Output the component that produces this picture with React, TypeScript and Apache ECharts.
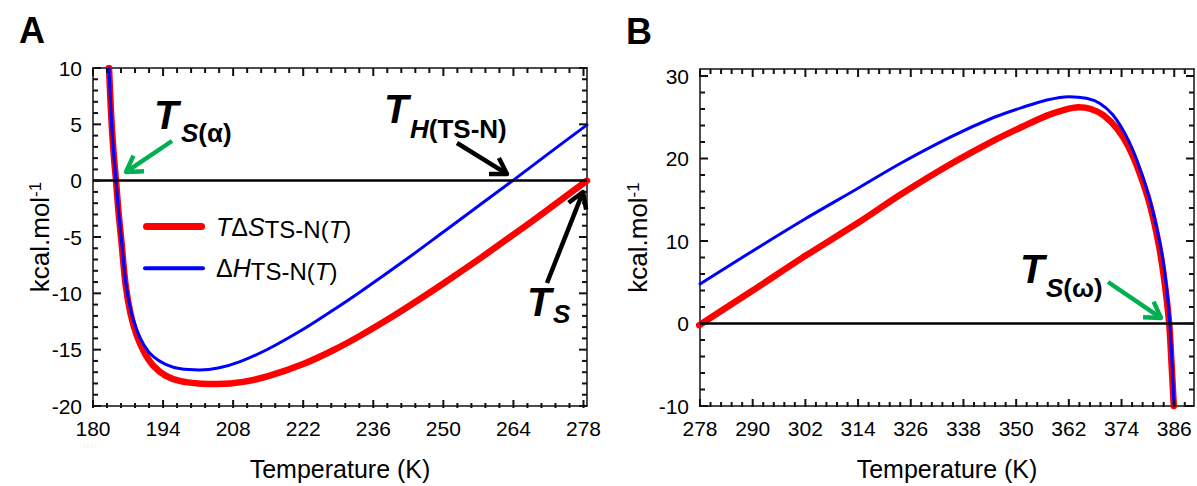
import React, { useEffect, useRef } from 'react';
import * as echarts from 'echarts';

// ---------- Panel A data (low temperature) ----------
const aEntropyT = [183.2, 183.5, 183.8, 184.2, 184.6, 185.1, 185.7, 186.5, 187.5, 188.7, 190.2, 192, 194.5, 197.5, 201, 205, 210, 215, 222, 228, 233.3, 240, 245, 250, 257.7, 264, 270, 278.7];
const aEntropy = [10, 7, 4.5, 2, 0, -2.8, -5.5, -9.2, -11.8, -13.7, -15.2, -16.4, -17.3, -17.8, -18.0, -18.05, -17.86, -17.35, -16.27, -15.05, -13.79, -12.02, -10.6, -9.13, -6.78, -4.79, -2.86, 0];
const aEnthalpyT = [183.2, 183.5, 183.8, 184.2, 184.6, 185.1, 185.7, 186.5, 187.5, 188.7, 190.2, 192, 194.5, 197.5, 201.3, 205, 209.4, 215, 222, 228, 233.3, 243.3, 250, 257, 264, 271, 278.7];
const aEnthalpy = [10, 7, 4.5, 2, 0, -2.7, -5.3, -8.9, -11.4, -13.2, -14.6, -15.6, -16.3, -16.7, -16.8, -16.63, -16.06, -14.94, -13.19, -11.48, -9.9, -6.75, -4.55, -2.25, 0.05, 2.4, 4.95];

// ---------- Panel B data (high temperature) ----------
const bEntropyT = [277.8, 290, 302, 314, 323.6, 335, 345, 352, 357, 361, 364.2, 367, 370, 373, 375.5, 378, 380.5, 382.5, 383.8, 384.85, 385.4, 385.9];
const bEntropy = [-0.2, 4.0, 8.2, 12.2, 15.6, 19.3, 22.2, 24.0, 25.2, 25.9, 26.2, 26.0, 25.2, 23.6, 21.5, 18.4, 14.3, 9.5, 5.0, 0, -5, -10];
const bEnthalpyT = [278, 290, 302, 314, 323.6, 335, 345, 352, 357, 362, 366, 369, 372, 375, 377.5, 380, 382, 383.5, 384.4, 385.0, 385.5, 385.95];
const bEnthalpy = [4.8, 8.8, 12.7, 16.4, 19.4, 22.6, 25.0, 26.3, 27.1, 27.5, 27.3, 26.7, 25.3, 22.8, 19.8, 15.8, 11.6, 7.5, 3.6, 0, -4.8, -10];

// ---------- Axis settings ----------
const aXTicks = { min: 180, max: 278.7, interval: 14, minor: 2.8 };
const aYTicks = { min: -20, max: 10, interval: 5, minor: 1 };
const bXTicks = { min: 278, max: 390.5, interval: 12, minor: 2.4 };
const bYTicks = { min: -10, max: 30.85, interval: 10, minor: 2 };

const FONT = '"Liberation Sans", Arial, Helvetica, sans-serif';
const AXIS_COLOR = '#111111';
const RED = '#ff0000';
const BLUE = '#0000ff';
const GREEN = '#00b050';

const GRID_A = { left: 93, top: 68, width: 494, height: 340 };
const GRID_B = { left: 700, top: 69, width: 494, height: 338 };

function pairs(xs: number[], ys: number[]) {
  return xs.map((x, i) => [x, ys[i]]);
}

function mainX(grid: number, t: any, position: string) {
  const isBottom = position === 'bottom';
  return {
    type: 'value', gridIndex: grid, min: t.min, max: t.max, position, interval: t.interval,
    splitLine: { show: false },
    axisLine: { show: true, onZero: false, lineStyle: { color: AXIS_COLOR, width: 1.5 } },
    axisTick: { show: false },
    axisLabel: isBottom ? { show: true, margin: 12, fontSize: 21, color: '#000', fontFamily: FONT, showMaxLabel: false } : { show: false },
    name: isBottom ? 'Temperature (K)' : '', nameLocation: 'middle', nameGap: 50, nameMoveOverlap: false,
    nameTextStyle: { fontSize: 25, color: '#000', fontFamily: FONT },
  };
}

function mainY(grid: number, t: any, position: string, gap: number, hideMax: boolean) {
  const isLeft = position === 'left';
  return {
    type: 'value', gridIndex: grid, min: t.min, max: t.max, position, interval: t.interval,
    splitLine: { show: false },
    axisLine: { show: true, onZero: false, lineStyle: { color: AXIS_COLOR, width: 1.5 } },
    axisTick: { show: false },
    axisLabel: isLeft ? { show: true, margin: 11, fontSize: 21, color: '#000', fontFamily: FONT, showMaxLabel: hideMax ? false : true } : { show: false },
    name: isLeft ? '{a|kcal.mol}{s|-1}' : '', nameLocation: 'middle', nameRotate: 90, nameGap: gap, nameMoveOverlap: false,
    nameTextStyle: {
      color: '#000', fontFamily: FONT,
      rich: {
        a: { fontSize: 26, lineHeight: 26, verticalAlign: 'bottom', fontFamily: FONT, color: '#000' },
        s: { fontSize: 17, lineHeight: 17, verticalAlign: 'top', padding: [0, 0, 20, 0], fontFamily: FONT, color: '#000' },
      },
    },
  };
}

function arrow(x1: number, y1: number, x2: number, y2: number, color: string) {
  const ang = Math.atan2(y2 - y1, x2 - x1);
  const L = 18;
  const sp = 0.55;
  const p1 = [x2 - L * Math.cos(ang - sp), y2 - L * Math.sin(ang - sp)];
  const p2 = [x2 - L * Math.cos(ang + sp), y2 - L * Math.sin(ang + sp)];
  return [
    { type: 'line', silent: true, z: 100, shape: { x1, y1, x2: x2 - 2 * Math.cos(ang), y2: y2 - 2 * Math.sin(ang) }, style: { stroke: color, lineWidth: 4.5 } },
    { type: 'polyline', silent: true, z: 100, shape: { points: [p1, [x2, y2], p2] }, style: { stroke: color, lineWidth: 4.5, fill: null, lineJoin: 'round', lineCap: 'butt' } },
  ];
}

function bigT(x: number, y: number) {
  return { type: 'text', silent: true, z: 100, x, y, style: { text: 'T', fontSize: 40, fontWeight: 'bold', fontStyle: 'italic', fontFamily: FONT, fill: '#000', verticalAlign: 'middle', align: 'left' } };
}
function subText(x: number, y: number, text: string) {
  return {
    type: 'text', silent: true, z: 100, x, y,
    style: {
      text, verticalAlign: 'middle', align: 'left', fill: '#000', fontFamily: FONT, fontSize: 26, fontWeight: 'bold',
      rich: {
        i: { fontSize: 26, fontWeight: 'bold', fontStyle: 'italic', fontFamily: FONT, fill: '#000' },
        n: { fontSize: 26, fontWeight: 'bold', fontFamily: FONT, fill: '#000' },
      },
    },
  };
}

const legendRich = {
  i: { fontSize: 25, fontStyle: 'italic', lineHeight: 30, verticalAlign: 'middle', fontFamily: FONT, color: '#000' },
  i0: { fontSize: 25, fontStyle: 'italic', lineHeight: 30, verticalAlign: 'middle', fontFamily: FONT, color: '#000', padding: [0, 0, 0, 6] },
  n: { fontSize: 25, lineHeight: 30, verticalAlign: 'middle', fontFamily: FONT, color: '#000' },
  n0: { fontSize: 25, lineHeight: 30, verticalAlign: 'middle', fontFamily: FONT, color: '#000', padding: [0, 0, 0, 6] },
  sub: { fontSize: 24, lineHeight: 20, verticalAlign: 'bottom', fontFamily: FONT, color: '#000' },
  subi: { fontSize: 24, fontStyle: 'italic', lineHeight: 20, verticalAlign: 'bottom', fontFamily: FONT, color: '#000' },
};

// Inward ticks on the four edges of a grid, positioned through the chart's axis scales.
function edgeTicks(chart: any, xAxisIndex: number, yAxisIndex: number, g: any, tx: any, ty: any) {
  const els: any[] = [];
  const top = g.top, bottom = g.top + g.height, left = g.left, right = g.left + g.width;
  const mapX = (v: number) => {
    const p = chart.convertToPixel({ xAxisIndex }, v);
    return Number.isFinite(p) ? p : left + ((v - tx.min) / (tx.max - tx.min)) * g.width;
  };
  const mapY = (v: number) => {
    const p = chart.convertToPixel({ yAxisIndex }, v);
    return Number.isFinite(p) ? p : bottom - ((v - ty.min) / (ty.max - ty.min)) * g.height;
  };
  const line = (x1: number, y1: number, x2: number, y2: number) => ({
    type: 'line', silent: true, z: 60, shape: { x1, y1, x2, y2 }, style: { stroke: AXIS_COLOR, lineWidth: 2 },
  });
  const perX = Math.round(tx.interval / tx.minor);
  const nx = Math.floor((tx.max - tx.min) / tx.minor + 1e-6);
  for (let k = 0; k <= nx; k++) {
    const px = mapX(+(tx.min + k * tx.minor).toFixed(4));
    const len = k % perX === 0 ? 8 : 5;
    els.push(line(px, bottom, px, bottom - len));
    els.push(line(px, top, px, top + len));
  }
  const perY = Math.round(ty.interval / ty.minor);
  const ny = Math.floor((ty.max - ty.min) / ty.minor + 1e-6);
  for (let k = 0; k <= ny; k++) {
    const py = mapY(+(ty.min + k * ty.minor).toFixed(4));
    const len = k % perY === 0 ? 8 : 5;
    els.push(line(left, py, left + len, py));
    els.push(line(right, py, right - len, py));
  }
  return els;
}

export default function App() {
  const ref = useRef<HTMLDivElement>(null);
  useEffect(() => {
    document.body.style.margin = '0';
    const chart = echarts.init(ref.current!, null, { renderer: 'svg' });
    const xA = [mainX(0, aXTicks, 'bottom'), mainX(0, aXTicks, 'top')];
    const yA = [mainY(0, aYTicks, 'left', 40, false), mainY(0, aYTicks, 'right', 0, false)];
    const xB = [mainX(1, bXTicks, 'bottom'), mainX(1, bXTicks, 'top')];
    const yB = [mainY(1, bYTicks, 'left', 49, true), mainY(1, bYTicks, 'right', 0, true)];
    const annotations: any[] = [
      { type: 'text', silent: true, x: 19, y: 30, style: { text: 'A', fontSize: 36, fontWeight: 'bold', fontFamily: FONT, fill: '#000', verticalAlign: 'middle' } },
      { type: 'text', silent: true, x: 626, y: 31, style: { text: 'B', fontSize: 36, fontWeight: 'bold', fontFamily: FONT, fill: '#000', verticalAlign: 'middle' } },
      bigT(154, 115), subText(181, 133, '{i|S}{n|(α)}'),
      bigT(384, 109), subText(410, 129, '{i|H}{n|(TS-N)}'),
      bigT(527, 302), subText(553, 314, '{i|S}'),
      bigT(1020, 269), subText(1046, 288, '{i|S}{n|(ω)}'),
      ...arrow(172, 141, 126, 172, GREEN),
      ...arrow(457, 143, 507, 174, '#000'),
      ...arrow(547, 283, 583, 192, '#000'),
      ...arrow(1108, 282, 1161, 318, GREEN),
    ];
    const option: any = {
      animation: false,
      backgroundColor: '#ffffff',
      textStyle: { fontFamily: FONT },
      grid: [GRID_A, GRID_B],
      xAxis: [...xA, ...xB],
      yAxis: [...yA, ...yB],
      legend: [
        {
          left: 143, top: 214, padding: 0, selectedMode: false,
          itemWidth: 62, itemHeight: 7,
          data: [{ name: 'TΔS', icon: 'path://M3.5,0 H58.5 A3.5,3.5 0 0 1 58.5,7 H3.5 A3.5,3.5 0 0 1 3.5,0 Z', itemStyle: { color: RED } }],
          formatter: () => '{i0|T}{n|Δ}{i|S}{sub|TS-N(}{subi|T}{sub|)}',
          textStyle: { rich: legendRich },
        },
        {
          left: 143, top: 255.7, padding: 0, selectedMode: false,
          itemWidth: 62, itemHeight: 4,
          data: [{ name: 'ΔH', icon: 'path://M2,0 H60 A2,2 0 0 1 60,4 H2 A2,2 0 0 1 2,0 Z', itemStyle: { color: BLUE } }],
          formatter: () => '{n0|Δ}{i|H}{sub|TS-N(}{subi|T}{sub|)}',
          textStyle: { rich: legendRich },
        },
      ],
      series: [
        {
          type: 'line', name: 'TΔS', xAxisIndex: 0, yAxisIndex: 0, data: pairs(aEntropyT, aEntropy),
          symbol: 'none', smooth: 0.3, lineStyle: { color: RED, width: 6.5, cap: 'round', join: 'round' }, itemStyle: { color: RED }, z: 2,
        },
        {
          type: 'line', name: 'ΔH', xAxisIndex: 0, yAxisIndex: 0, data: pairs(aEnthalpyT, aEnthalpy),
          symbol: 'none', smooth: 0.3, lineStyle: { color: BLUE, width: 3, cap: 'round', join: 'round' }, itemStyle: { color: BLUE }, z: 3,
          markLine: { silent: true, symbol: 'none', label: { show: false }, lineStyle: { color: '#000', width: 2.5, type: 'solid' }, data: [{ yAxis: 0 }] },
        },
        {
          type: 'line', name: 'TΔS', xAxisIndex: xA.length, yAxisIndex: yA.length, data: pairs(bEntropyT, bEntropy),
          symbol: 'none', smooth: 0.3, lineStyle: { color: RED, width: 6.5, cap: 'round', join: 'round' }, itemStyle: { color: RED }, z: 2,
        },
        {
          type: 'line', name: 'ΔH', xAxisIndex: xA.length, yAxisIndex: yA.length, data: pairs(bEnthalpyT, bEnthalpy),
          symbol: 'none', smooth: 0.3, lineStyle: { color: BLUE, width: 3, cap: 'round', join: 'round' }, itemStyle: { color: BLUE }, z: 3,
          markLine: { silent: true, symbol: 'none', label: { show: false }, lineStyle: { color: '#000', width: 2.5, type: 'solid' }, data: [{ yAxis: 0 }] },
        },
      ],
    };
    chart.setOption(option);
    const ticks = [
      ...edgeTicks(chart, 0, 0, GRID_A, aXTicks, aYTicks),
      ...edgeTicks(chart, xA.length, yA.length, GRID_B, bXTicks, bYTicks),
    ];
    chart.setOption({ graphic: [...annotations, ...ticks] });
    return () => chart.dispose();
  }, []);
  return <div ref={ref} style={{ position: 'absolute', left: 0, top: 0, width: 1197, height: 486 }} />;
}
